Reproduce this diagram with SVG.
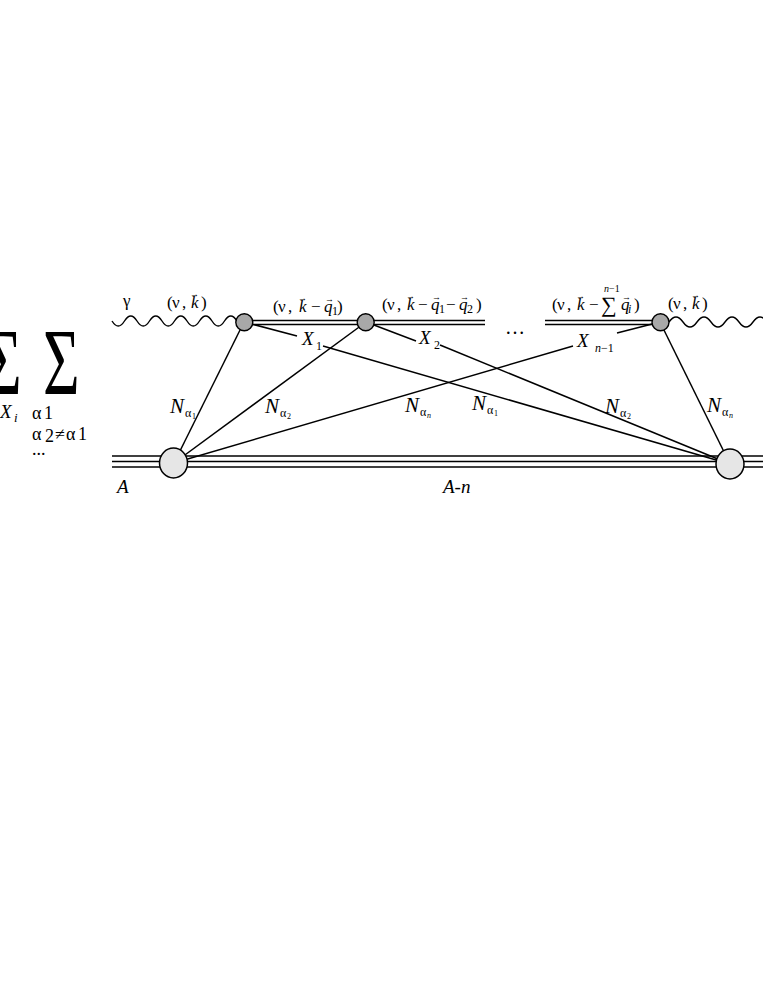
<svg xmlns="http://www.w3.org/2000/svg" width="763" height="987" viewBox="0 0 763 987">
<style>
.i{font-style:italic}
.t{font-size:17px}
.ar{font-size:9px}
.N{font-size:21px;font-style:italic}
.sub{font-size:12px}
.X{font-size:19px;font-style:italic}
.ln{stroke:#000;stroke-width:1.5;fill:none}
.dl{stroke:#000;stroke-width:1.4;fill:none}
.wv{stroke:#000;stroke-width:1.4;fill:none}
.v{fill:#a8a8a8;stroke:#000;stroke-width:1.4}
.b{fill:#e6e6e6;stroke:#000;stroke-width:1.5}
</style>
<rect width="763" height="987" fill="#fff"/>

<g id="sums" font-family="Liberation Serif, serif">
<text x="-15" y="395" transform="translate(0,-197.5) scale(1,1.5)" style="font-size:63px">Σ</text>
<text x="43" y="395" transform="translate(0,-197.5) scale(1,1.5)" style="font-size:63px">Σ</text>
<text x="0" y="418" class="i" style="font-size:19px">X</text>
<text x="14" y="422" class="i" style="font-size:13px">i</text>
<text x="32" y="419" style="font-size:18px">α</text>
<text x="44" y="419" style="font-size:18px">1</text>
<text x="32" y="440" style="font-size:18px">α</text>
<text x="45" y="442" style="font-size:18px">2</text>
<text x="55" y="440" style="font-size:18px">≠</text>
<text x="66" y="440" style="font-size:18px">α</text>
<text x="78" y="440" style="font-size:18px">1</text>
<text x="32" y="455" style="font-size:18px">...</text>
</g>

<g id="lines-nucleus">
<line class="dl" x1="112" y1="456" x2="763" y2="456"/>
<line class="dl" x1="112" y1="461.5" x2="763" y2="461.5"/>
<line class="dl" x1="112" y1="467" x2="763" y2="467"/>
</g>

<g id="propagators">
<path class="wv" d="M112,321 q6.25,10 12.5,0 t12.5,0 t12.5,0 t12.5,0 t12.5,0 t12.5,0 t12.5,0 t12.5,0 t12.5,0 t12.5,0"/>
<path class="wv" d="M669,322 q7,-10 14,0 t14,0 t14,0 t14,0 t14,0 t14,0 t14,0"/>
<line class="dl" x1="244" y1="320.5" x2="485" y2="320.5"/>
<line class="dl" x1="244" y1="324.5" x2="485" y2="324.5"/>
<line class="dl" x1="545" y1="320.5" x2="660" y2="320.5"/>
<line class="dl" x1="545" y1="324.5" x2="660" y2="324.5"/>
</g>

<g id="connectors">
<line class="ln" x1="244" y1="322" x2="174" y2="463"/>
<line class="ln" x1="366" y1="322" x2="174" y2="463"/>
<line class="ln" x1="244" y1="322" x2="297" y2="336"/>
<line class="ln" x1="323" y1="346" x2="730" y2="464"/>
<line class="ln" x1="366" y1="322" x2="416" y2="341"/>
<line class="ln" x1="440" y1="345" x2="730" y2="464"/>
<line class="ln" x1="660" y1="322" x2="617" y2="333"/>
<line class="ln" x1="573" y1="346" x2="174" y2="463"/>
<line class="ln" x1="660" y1="322" x2="730" y2="464"/>
</g>

<g id="vertex1"><circle class="v" cx="244.3" cy="322.3" r="8.5"/></g>
<g id="vertex2"><circle class="v" cx="365.7" cy="322.3" r="8.5"/></g>
<g id="vertex3"><circle class="v" cx="660.5" cy="322.3" r="8.5"/></g>
<g id="nucleusA"><ellipse class="b" cx="173.5" cy="463" rx="14" ry="15"/></g>
<g id="nucleusB"><ellipse class="b" cx="730" cy="464" rx="14" ry="15"/></g>

<g id="labels" font-family="Liberation Serif, serif">
<text x="123" y="306" style="font-size:17px">γ</text>

<text x="167" y="308" class="t">(</text>
<text x="172" y="308" class="t">ν</text>
<text x="182" y="308" class="t">,</text>
<text x="191" y="308" class="t i">k</text>
<text x="190" y="297" class="ar">→</text>
<text x="201" y="308" class="t">)</text>

<text x="273" y="312" class="t">(</text>
<text x="278" y="312" class="t">ν</text>
<text x="288" y="312" class="t">,</text>
<text x="299" y="312" class="t i">k</text>
<text x="298" y="301" class="ar">→</text>
<text x="311" y="312" class="t">−</text>
<text x="324" y="312" class="t i">q</text>
<text x="325" y="302" class="ar">→</text>
<text x="332" y="315" class="sub">1</text>
<text x="337" y="312" class="t">)</text>

<text x="382" y="310" class="t">(</text>
<text x="387" y="310" class="t">ν</text>
<text x="397" y="310" class="t">,</text>
<text x="407" y="310" class="t i">k</text>
<text x="406" y="299" class="ar">→</text>
<text x="418" y="310" class="t">−</text>
<text x="431" y="310" class="t i">q</text>
<text x="432" y="300" class="ar">→</text>
<text x="439" y="313" class="sub">1</text>
<text x="446" y="310" class="t">−</text>
<text x="459" y="310" class="t i">q</text>
<text x="460" y="300" class="ar">→</text>
<text x="467" y="313" class="sub">2</text>
<text x="476" y="310" class="t">)</text>

<text x="505" y="334" style="font-size:20px">…</text>

<text x="552" y="310" class="t">(</text>
<text x="557" y="310" class="t">ν</text>
<text x="567" y="310" class="t">,</text>
<text x="577" y="310" class="t i">k</text>
<text x="576" y="299" class="ar">→</text>
<text x="589" y="310" class="t">−</text>
<text x="601" y="312" style="font-size:22px">∑</text>
<text x="604" y="292" class="i" style="font-size:10px">n</text>
<text x="609" y="292" style="font-size:10px">−1</text>
<text x="621" y="310" class="t i">q</text>
<text x="622" y="300" class="ar">→</text>
<text x="628" y="313" class="sub i">i</text>
<text x="634" y="310" class="t">)</text>

<text x="668" y="309" class="t">(</text>
<text x="673" y="309" class="t">ν</text>
<text x="683" y="309" class="t">,</text>
<text x="692" y="309" class="t i">k</text>
<text x="691" y="298" class="ar">→</text>
<text x="702" y="309" class="t">)</text>

<text x="302" y="345" class="X">X</text>
<text x="316" y="350" class="sub">1</text>
<text x="419" y="344" class="X">X</text>
<text x="434" y="349" class="sub">2</text>
<text x="577" y="347" class="X">X</text>
<text x="595" y="352" class="sub i">n</text>
<text x="601" y="352" class="sub">−1</text>

<text x="170" y="413" class="N">N</text>
<text x="185" y="417" class="sub">α</text>
<text x="192" y="419" style="font-size:8px">1</text>
<text x="265" y="413" class="N">N</text>
<text x="280" y="417" class="sub">α</text>
<text x="287" y="419" style="font-size:8px">2</text>
<text x="405" y="412" class="N">N</text>
<text x="420" y="416" class="sub">α</text>
<text x="427" y="418" class="i" style="font-size:8px">n</text>
<text x="472" y="410" class="N">N</text>
<text x="487" y="414" class="sub">α</text>
<text x="494" y="416" style="font-size:8px">1</text>
<text x="605" y="413" class="N">N</text>
<text x="620" y="417" class="sub">α</text>
<text x="627" y="419" style="font-size:8px">2</text>
<text x="707" y="412" class="N">N</text>
<text x="722" y="416" class="sub">α</text>
<text x="729" y="418" class="i" style="font-size:8px">n</text>

<text x="117" y="493" class="i" style="font-size:19px">A</text>
<text x="443" y="493" class="i" style="font-size:19px">A-n</text>
</g>
</svg>
